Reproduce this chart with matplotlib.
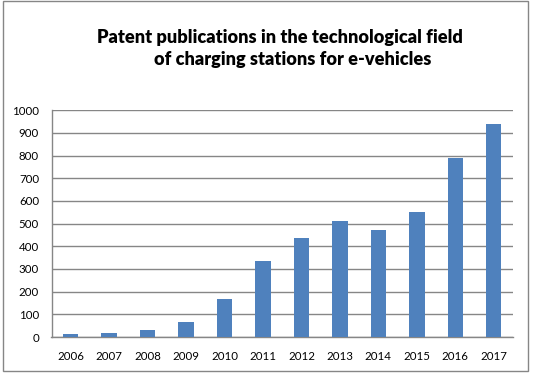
import matplotlib
matplotlib.use("Agg")
import matplotlib.pyplot as plt
from matplotlib.patches import Rectangle

years = ['2006', '2007', '2008', '2009', '2010', '2011',
         '2012', '2013', '2014', '2015', '2016', '2017']
publications = [13, 18, 31, 66, 168, 335, 437, 512, 472, 551, 790, 939]

plt.rcParams['font.family'] = ['Lato', 'DejaVu Sans']

fig = plt.figure(figsize=(5.33, 3.75), dpi=100)
W, H = 533, 375
ax = fig.add_axes([51.5 / W, 1 - 337 / H, (513 - 51.5) / W, (337 - 110.3) / H])

x = range(len(years))
ax.bar(x, publications, width=0.4, color='#4f81bd', zorder=3)

ax.set_xlim(-0.5, len(years) - 0.5)
ax.set_ylim(0, 1000)
ax.set_yticks(range(0, 1001, 100))
ax.set_xticks(list(x))
ax.set_xticklabels(years)
ax.tick_params(axis='both', length=0, labelsize=8.3, colors='black')
ax.tick_params(axis='y', pad=9)
ax.tick_params(axis='x', pad=10)
ax.grid(axis='y', color='#868686', linewidth=1)
for s in ['top', 'right']:
    ax.spines[s].set_visible(False)
for s in ['left', 'bottom']:
    ax.spines[s].set_color('#868686')
    ax.spines[s].set_linewidth(1)

# title, two lines
fig.text(280 / W, 1 - 37 / H, 'Patent publications in the technological field',
         ha='center', va='center', fontsize=13.1, fontweight='heavy')
fig.text(293 / W, 1 - 60 / H, 'of charging stations for e-vehicles',
         ha='center', va='center', fontsize=13.1, fontweight='heavy')

# outer chart frame
fig.patches.append(Rectangle((3 / W, 1 - 371 / H), 525 / W, 370 / H,
                             transform=fig.transFigure, fill=False,
                             edgecolor='#868686', linewidth=1))

fig.savefig('out.png', dpi=100)
